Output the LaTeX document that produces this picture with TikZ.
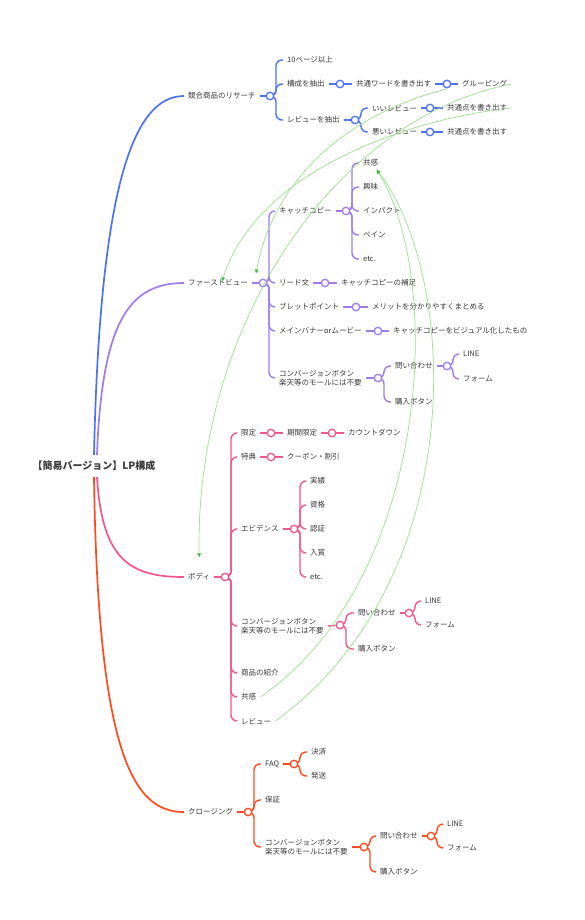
\documentclass[tikz,border=0pt]{standalone}
\usepackage{fontspec}
\setmainfont{Noto Sans CJK JP}
\usetikzlibrary{arrows.meta,calc}
\pgfdeclarelayer{bg}
\pgfsetlayers{bg,main}
\definecolor{txt}{HTML}{3A3A3A}
\definecolor{cb}{HTML}{4A72F5}
\definecolor{cp}{HTML}{A07BF0}
\definecolor{ck}{HTML}{F2568D}
\definecolor{co}{HTML}{FF4A1C}
\definecolor{rg}{HTML}{9BE08B}
\definecolor{ag}{HTML}{3DBB3D}
\tikzset{
  t/.style={anchor=west, inner xsep=4pt, inner ysep=1pt, text=txt,
    font=\fontsize{7.5}{9.5}\selectfont, align=left},
  jn/.style={circle, draw=#1, fill=white, line width=1.3pt, minimum size=7.5pt, inner sep=0pt},
  br/.style={draw=#1, line width=1.4pt, rounded corners=6pt},
  ln/.style={draw=#1, line width=1.4pt},
  rel/.style={draw=rg, line width=0.7pt, -{Triangle[length=4pt,width=3.6pt,fill=ag,color=ag]}},
  relb/.style={draw=rg, line width=0.7pt}
}
\newcommand{\brc}[3]{\draw[br=#1] (#2.center) -- ++(6,0) |- (#3.west);}
\begin{document}
\begin{tikzpicture}[x=1pt,y=-1pt]
\useasboundingbox (0,0) rectangle (585,920);

% root
\node[text=txt, font=\bfseries\fontsize{10}{12}\selectfont, inner ysep=6pt] (root) at (94,466) {【簡易バージョン】LP構成};

% ---------- blue ----------
\node[t] (res) at (184,96) {競合商品のリサーチ};
\node[jn=cb] (jres) at (270,96) {};
\node[t] (p10) at (283,60) {10ページ以上};
\node[t] (kos) at (283,84) {構成を抽出};
\node[jn=cb] (jkos) at (340,84) {};
\node[t] (kyo) at (352,84) {共通ワードを書き出す};
\node[jn=cb] (jkyo) at (447,84) {};
\node[t] (grp) at (458,84) {グルーピング};
\node[t] (rev) at (283,120) {レビューを抽出};
\node[jn=cb] (jrev) at (355,120) {};
\node[t] (good) at (368,108) {いいレビュー};
\node[jn=cb] (jgood) at (430,108) {};
\node[t] (gc) at (443,108) {共通点を書き出す};
\node[t] (bad) at (368,132) {悪いレビュー};
\node[jn=cb] (jbad) at (430,132) {};
\node[t] (bc) at (443,132) {共通点を書き出す};

% ---------- purple ----------
\node[t] (fv) at (184,283) {ファーストビュー};
\node[jn=cp] (jfv) at (263,283) {};
\node[t] (cc) at (275,211) {キャッチコピー};
\node[jn=cp] (jcc) at (346,211) {};
\node[t] (ky1) at (359,163) {共感};
\node[t] (kmi) at (359,187) {興味};
\node[t] (imp) at (359,211) {インパクト};
\node[t] (pain) at (359,235) {ペイン};
\node[t] (etc1) at (359,259) {etc.};
\node[t] (lead) at (275,283) {リード文};
\node[jn=cp] (jlead) at (325,283) {};
\node[t] (lead2) at (337,283) {キャッチコピーの補足};
\node[t] (bul) at (275,307) {ブレットポイント};
\node[jn=cp] (jbul) at (356,307) {};
\node[t] (bul2) at (368,307) {メリットを分かりやすくまとめる};
\node[t] (ban) at (275,331) {メインバナーorムービー};
\node[jn=cp] (jban) at (378,331) {};
\node[t] (ban2) at (389,331) {キャッチコピーをビジュアル化したもの};
\node[t] (cv1) at (275,378) {コンバージョンボタン\\楽天等のモールには不要};
\node[jn=cp] (jcv1) at (378,378) {};
\node[t] (inq1) at (391,366) {問い合わせ};
\node[jn=cp] (jinq1) at (447,366) {};
\node[t] (line1) at (459,354) {LINE};
\node[t] (form1) at (459,379) {フォーム};
\node[t] (buy1) at (391,402) {購入ボタン};

% ---------- pink ----------
\node[t] (body) at (184,577) {ボディ};
\node[jn=ck] (jbody) at (225,577) {};
\node[t] (gen) at (237,433) {限定};
\node[jn=ck] (jgen) at (271,433) {};
\node[t] (kikan) at (283,433) {期間限定};
\node[jn=ck] (jkikan) at (332,433) {};
\node[t] (count) at (344,433) {カウントダウン};
\node[t] (tok) at (237,457) {特典};
\node[jn=ck] (jtok) at (271,457) {};
\node[t] (coupon) at (283,457) {クーポン・割引};
\node[t] (evi) at (237,529) {エビデンス};
\node[jn=ck] (jevi) at (294,529) {};
\node[t] (jis) at (306,481) {実績};
\node[t] (shi) at (306,505) {資格};
\node[t] (nin) at (306,529) {認証};
\node[t] (nyu) at (306,553) {入賞};
\node[t] (etc2) at (306,577) {etc.};
\node[t] (cv2) at (237,626) {コンバージョンボタン\\楽天等のモールには不要};
\node[jn=ck] (jcv2) at (340,625) {};
\node[t] (inq2) at (354,613) {問い合わせ};
\node[jn=ck] (jinq2) at (409,613) {};
\node[t] (line2) at (421,601) {LINE};
\node[t] (form2) at (421,625) {フォーム};
\node[t] (buy2) at (354,649) {購入ボタン};
\node[t] (sho) at (237,673) {商品の紹介};
\node[t] (ky2) at (237,697) {共感};
\node[t] (revb) at (237,721) {レビュー};

% ---------- orange ----------
\node[t] (clo) at (184,812) {クロージング};
\node[jn=co] (jclo) at (248,812) {};
\node[t] (faq) at (261,764) {FAQ};
\node[jn=co] (jfaq) at (294,764) {};
\node[t] (kes) at (307,752) {決済};
\node[t] (has) at (307,776) {発送};
\node[t] (hos) at (261,800) {保証};
\node[t] (cv3) at (261,847) {コンバージョンボタン\\楽天等のモールには不要};
\node[jn=co] (jcv3) at (364,847) {};
\node[t] (inq3) at (376,836) {問い合わせ};
\node[jn=co] (jinq3) at (431,836) {};
\node[t] (line3) at (443,824) {LINE};
\node[t] (form3) at (443,848) {フォーム};
\node[t] (buy3) at (376,872) {購入ボタン};

\begin{pgfonlayer}{bg}
\fill[white] (0,0) rectangle (585,920);
% root branches
\draw[cb, line width=1.7pt] (root.north) .. controls (100,180) and (135,96) .. (res.west);
\draw[cp, line width=1.7pt] ($(root.north)+(3,0)$) .. controls (102,320) and (130,283) .. (fv.west);
\draw[ck, line width=1.7pt] ($(root.south)+(3,0)$) .. controls (102,560) and (130,577) .. (body.west);
\draw[co, line width=1.7pt] (root.south) .. controls (98,760) and (135,812) .. (clo.west);
% blue
\draw[ln=cb] (res.east) -- (jres);
\brc{cb}{jres}{p10} \brc{cb}{jres}{kos} \brc{cb}{jres}{rev}
\draw[ln=cb] (kos.east) -- (jkos) -- (kyo.west);
\draw[ln=cb] (kyo.east) -- (jkyo) -- (grp.west);
\draw[ln=cb] (rev.east) -- (jrev);
\brc{cb}{jrev}{good} \brc{cb}{jrev}{bad}
\draw[ln=cb] (good.east) -- (jgood) -- (gc.west);
\draw[ln=cb] (bad.east) -- (jbad) -- (bc.west);
% purple
\draw[ln=cp] (fv.east) -- (jfv);
\brc{cp}{jfv}{cc} \brc{cp}{jfv}{lead} \brc{cp}{jfv}{bul} \brc{cp}{jfv}{ban} \brc{cp}{jfv}{cv1}
\draw[ln=cp] (cc.east) -- (jcc);
\brc{cp}{jcc}{ky1} \brc{cp}{jcc}{kmi} \brc{cp}{jcc}{imp} \brc{cp}{jcc}{pain} \brc{cp}{jcc}{etc1}
\draw[ln=cp] (lead.east) -- (jlead) -- (lead2.west);
\draw[ln=cp] (bul.east) -- (jbul) -- (bul2.west);
\draw[ln=cp] (ban.east) -- (jban) -- (ban2.west);
\draw[ln=cp] (cv1.east) -- (jcv1);
\brc{cp}{jcv1}{inq1} \brc{cp}{jcv1}{buy1}
\draw[ln=cp] (inq1.east) -- (jinq1);
\brc{cp}{jinq1}{line1} \brc{cp}{jinq1}{form1}
% pink
\draw[ln=ck] (body.east) -- (jbody);
\brc{ck}{jbody}{gen} \brc{ck}{jbody}{tok} \brc{ck}{jbody}{evi} \brc{ck}{jbody}{cv2}
\brc{ck}{jbody}{sho} \brc{ck}{jbody}{ky2} \brc{ck}{jbody}{revb}
\draw[ln=ck] (gen.east) -- (jgen) -- (kikan.west);
\draw[ln=ck] (kikan.east) -- (jkikan) -- (count.west);
\draw[ln=ck] (tok.east) -- (jtok) -- (coupon.west);
\draw[ln=ck] (evi.east) -- (jevi);
\brc{ck}{jevi}{jis} \brc{ck}{jevi}{shi} \brc{ck}{jevi}{nin} \brc{ck}{jevi}{nyu} \brc{ck}{jevi}{etc2}
\draw[ln=ck] (cv2.east) -- (jcv2);
\brc{ck}{jcv2}{inq2} \brc{ck}{jcv2}{buy2}
\draw[ln=ck] (inq2.east) -- (jinq2);
\brc{ck}{jinq2}{line2} \brc{ck}{jinq2}{form2}
% orange
\draw[ln=co] (clo.east) -- (jclo);
\brc{co}{jclo}{faq} \brc{co}{jclo}{hos} \brc{co}{jclo}{cv3}
\draw[ln=co] (faq.east) -- (jfaq);
\brc{co}{jfaq}{kes} \brc{co}{jfaq}{has}
\draw[ln=co] (cv3.east) -- (jcv3);
\brc{co}{jcv3}{inq3} \brc{co}{jcv3}{buy3}
\draw[ln=co] (inq3.east) -- (jinq3);
\brc{co}{jinq3}{line3} \brc{co}{jinq3}{form3}
\end{pgfonlayer}

% relationship lines
\draw[rel] (grp.east) .. controls (330,120) and (195,330) .. ($(body.north)+(0,-15)$);
\draw[rel] ($(grp.south west)+(-10,0)$) .. controls (360,110) and (275,170) .. ($(fv.north east)+(4,-5)$);
\draw[rel] (gc.east) .. controls (400,120) and (255,175) .. ($(fv.north)+(4,3)$);
\draw[rel] (ky2.east) .. controls (430,580) and (445,280) .. ($(ky1.south)+(6,2)$);
\draw[rel] (revb.east) .. controls (470,580) and (460,280) .. ($(ky1.south)+(6,2)$);
\end{tikzpicture}
\end{document}
